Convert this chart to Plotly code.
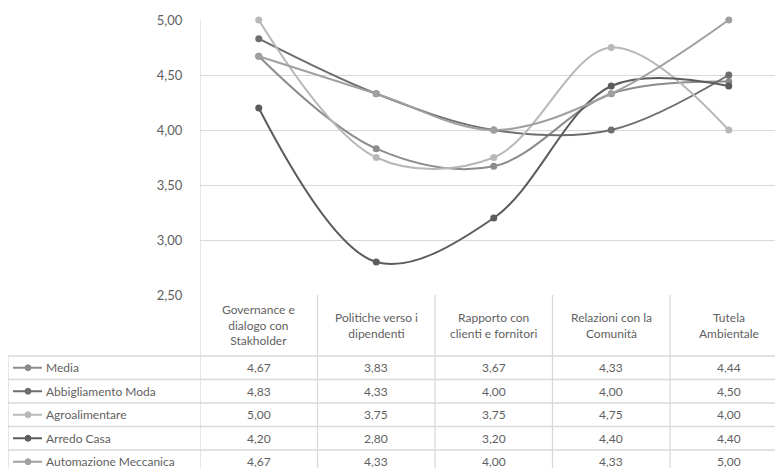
import plotly.graph_objects as go

# Dati del grafico
categorie = ["Governance e<br>dialogo con<br>Stakholder", "Politiche verso i<br>dipendenti",
             "Rapporto con<br>clienti e fornitori", "Relazioni con la<br>Comunità", "Tutela<br>Ambientale"]
serie = ["Media", "Abbigliamento Moda", "Agroalimentare", "Arredo Casa", "Automazione Meccanica"]
media = [4.67, 3.83, 3.67, 4.33, 4.44]
abbigliamento = [4.83, 4.33, 4.00, 4.00, 4.50]
agroalimentare = [5.00, 3.75, 3.75, 4.75, 4.00]
arredo = [4.20, 2.80, 3.20, 4.40, 4.40]
automazione = [4.67, 4.33, 4.00, 4.33, 5.00]
valori = [media, abbigliamento, agroalimentare, arredo, automazione]
tick_vals = [2.5, 3.0, 3.5, 4.0, 4.5, 5.0]
tick_text = ["2,50", "3,00", "3,50", "4,00", "4,50", "5,00"]

colori = ["#8c8c8c", "#6e6e6e", "#b8b8b8", "#5c5c5c", "#a0a0a0"]
testo = "#5f5f5f"
griglia = "#d9d9d9"
font = "Lato"

# geometria in pixel della pagina (il body ha 8px di margine)
W, H = 783, 468
OFF = 8
L, T, B = 200, 20, 295
CAT_W = 117.5
plot_w = W - (L - OFF)
x_idx = list(range(len(categorie)))


def py(y):
    # pixel verticale (pagina) -> coordinate paper
    return (B - y) / (B - T)


def pxp(x):
    # pixel orizzontale (pagina) -> coordinate paper
    return (x - L) / plot_w


fig = go.Figure()

for nome, vals, col in zip(serie, valori, colori):
    fig.add_trace(go.Scatter(
        x=x_idx, y=vals, mode="lines+markers", name=nome,
        line=dict(color=col, width=2, shape="spline", smoothing=1),
        marker=dict(color=col, size=7),
        showlegend=False, cliponaxis=False,
    ))

shapes = []
annotations = []

# righe orizzontali della tabella
righe_y = [356, 379.5, 403, 426.5, 450, 473.5]
for y in righe_y:
    shapes.append(dict(type="line", xref="paper", yref="paper",
                       x0=pxp(8), x1=1, y0=py(y), y1=py(y),
                       line=dict(color=griglia, width=1.3)))
# bordo sinistro della tabella
shapes.append(dict(type="line", xref="paper", yref="paper",
                   x0=pxp(8), x1=pxp(8), y0=py(356), y1=py(H + 5),
                   line=dict(color=griglia, width=1.3)))
# divisori verticali delle categorie (nella tabella)
for i in range(len(categorie) + 1):
    shapes.append(dict(type="line", xref="x", yref="paper",
                       x0=i - 0.5, x1=i - 0.5, y0=0, y1=py(H + 5),
                       line=dict(color=griglia, width=1.3)))
# asse sinistro del grafico
shapes.append(dict(type="line", xref="x", yref="paper",
                   x0=-0.5, x1=-0.5, y0=0, y1=1,
                   line=dict(color=griglia, width=1.3)))

# intestazioni delle categorie
for i, cat in enumerate(categorie):
    annotations.append(dict(x=i, y=py(325), xref="x", yref="paper",
                            text=cat, showarrow=False,
                            font=dict(family=font, size=12, color=testo),
                            xanchor="center", yanchor="middle"))

# righe dei dati con legenda
for r, (nome, vals, col) in enumerate(zip(serie, valori, colori)):
    yc = (righe_y[r] + righe_y[r + 1]) / 2
    shapes.append(dict(type="line", xref="paper", yref="paper",
                       x0=pxp(13), x1=pxp(42), y0=py(yc), y1=py(yc),
                       line=dict(color=col, width=2)))
    shapes.append(dict(type="circle", xref="paper", yref="paper",
                       x0=pxp(25), x1=pxp(31), y0=py(yc + 3), y1=py(yc - 3),
                       fillcolor=col, line=dict(color=col, width=1)))
    annotations.append(dict(x=pxp(44), y=py(yc), xref="paper", yref="paper",
                            text=nome, showarrow=False,
                            font=dict(family=font, size=12, color=testo),
                            xanchor="left", yanchor="middle"))
    for i, v in enumerate(vals):
        annotations.append(dict(x=i, y=py(yc), xref="x", yref="paper",
                                text=f"{v:.2f}".replace(".", ","), showarrow=False,
                                font=dict(family=font, size=12, color=testo),
                                xanchor="center", yanchor="middle"))

fig.update_layout(
    width=W, height=H,
    margin=dict(l=L - OFF, r=0, t=T - OFF, b=H - (B - OFF), pad=0),
    plot_bgcolor="white", paper_bgcolor="white",
    shapes=shapes, annotations=annotations,
    xaxis=dict(range=[-0.5, -0.5 + plot_w / CAT_W], showticklabels=False, showgrid=False,
               zeroline=False, showline=False, fixedrange=True),
    yaxis=dict(range=[2.5, 5.0], tickvals=tick_vals, ticktext=tick_text,
               showgrid=True, gridcolor=griglia, gridwidth=1.3,
               zeroline=False, showline=False, ticks="outside", ticklen=14,
               tickcolor="white",
               tickfont=dict(family=font, size=13, color=testo)),
)

fig.write_html("out.html")
